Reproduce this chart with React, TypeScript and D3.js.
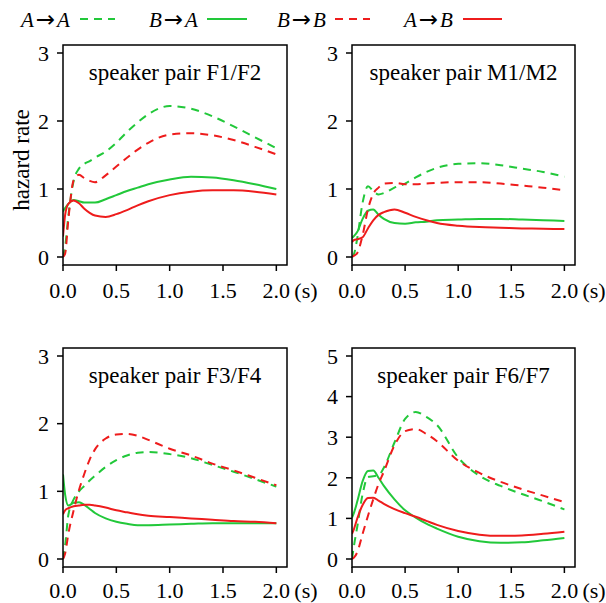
import React from 'react'
import * as d3 from 'd3'

// time grid (s) shared by every curve
const times = [0, 0.02, 0.05, 0.1, 0.15, 0.2, 0.25, 0.3, 0.4, 0.5, 0.6, 0.7, 0.8, 1.0, 1.2, 1.4, 1.6, 1.8, 2.0]

// speaker pair F1/F2
const f12AA = [0, 0.15, 0.6, 1.12, 1.3, 1.37, 1.41, 1.46, 1.55, 1.68, 1.84, 1.98, 2.1, 2.22, 2.18, 2.07, 1.92, 1.76, 1.6]
const f12BA = [0.67, 0.72, 0.78, 0.84, 0.82, 0.8, 0.8, 0.8, 0.85, 0.91, 0.97, 1.02, 1.07, 1.14, 1.18, 1.17, 1.13, 1.07, 1.0]
const f12BB = [0, 0.05, 0.55, 1.13, 1.21, 1.16, 1.12, 1.1, 1.2, 1.33, 1.46, 1.58, 1.68, 1.8, 1.82, 1.79, 1.72, 1.62, 1.51]
const f12AB = [0.3, 0.62, 0.78, 0.83, 0.79, 0.71, 0.65, 0.61, 0.59, 0.63, 0.69, 0.76, 0.82, 0.91, 0.96, 0.98, 0.98, 0.96, 0.92]

// speaker pair M1/M2
const m12AA = [0, 0.05, 0.28, 0.8, 1.04, 0.97, 0.92, 0.94, 1.02, 1.08, 1.17, 1.25, 1.31, 1.37, 1.38, 1.35, 1.3, 1.25, 1.18]
const m12BA = [0.28, 0.31, 0.37, 0.56, 0.68, 0.7, 0.62, 0.56, 0.5, 0.49, 0.51, 0.52, 0.54, 0.55, 0.56, 0.56, 0.55, 0.54, 0.53]
const m12BB = [0, 0.02, 0.06, 0.32, 0.7, 0.93, 1.02, 1.08, 1.09, 1.07, 1.07, 1.08, 1.09, 1.1, 1.1, 1.08, 1.05, 1.02, 0.98]
const m12AB = [0.22, 0.25, 0.26, 0.29, 0.42, 0.54, 0.62, 0.66, 0.7, 0.65, 0.59, 0.54, 0.5, 0.46, 0.44, 0.43, 0.42, 0.415, 0.41]

// speaker pair F3/F4
const f34AA = [0, 0.2, 0.65, 0.88, 1.0, 1.08, 1.16, 1.23, 1.36, 1.46, 1.53, 1.57, 1.58, 1.55, 1.49, 1.39, 1.29, 1.18, 1.07]
const f34BA = [1.25, 0.95, 0.79, 0.83, 0.84, 0.8, 0.74, 0.68, 0.6, 0.55, 0.52, 0.5, 0.5, 0.51, 0.52, 0.53, 0.53, 0.53, 0.53]
const f34BB = [0, 0.08, 0.37, 0.72, 1.02, 1.26, 1.47, 1.62, 1.78, 1.84, 1.85, 1.82, 1.76, 1.63, 1.53, 1.41, 1.31, 1.2, 1.09]
const f34AB = [0.66, 0.72, 0.75, 0.78, 0.79, 0.8, 0.8, 0.79, 0.76, 0.72, 0.69, 0.66, 0.64, 0.62, 0.6, 0.58, 0.56, 0.55, 0.53]

// speaker pair F6/F7
const f67AA = [0, 0.35, 0.8, 1.6, 2.02, 2.04, 2.06, 2.25, 2.87, 3.45, 3.62, 3.5, 3.3, 2.5, 2.05, 1.8, 1.6, 1.42, 1.22]
const f67BA = [1.02, 1.15, 1.42, 1.92, 2.17, 2.18, 2.0, 1.8, 1.47, 1.2, 1.02, 0.87, 0.75, 0.55, 0.44, 0.4, 0.41, 0.46, 0.52]
const f67BB = [0, 0.04, 0.17, 0.62, 1.06, 1.47, 1.85, 2.15, 2.8, 3.15, 3.2, 3.08, 2.9, 2.42, 2.12, 1.9, 1.72, 1.56, 1.4]
const f67AB = [0.62, 0.75, 1.0, 1.33, 1.5, 1.51, 1.44, 1.36, 1.23, 1.13, 1.04, 0.94, 0.84, 0.69, 0.6, 0.57, 0.58, 0.62, 0.67]

const panelTitles = ['speaker pair F1/F2', 'speaker pair M1/M2', 'speaker pair F3/F4', 'speaker pair F6/F7']
const yMaxes = [3, 3, 3, 5]
const xTicks = [0, 0.5, 1.0, 1.5, 2.0]
const legendFrom = ['A', 'B', 'B', 'A']
const legendTo = ['A', 'A', 'B', 'B']

const panelSeries = [
  [f12AA, f12BA, f12BB, f12AB],
  [m12AA, m12BA, m12BB, m12AB],
  [f34AA, f34BA, f34BB, f34AB],
  [f67AA, f67BA, f67BB, f67AB],
]

const GREEN = '#22c83a'
const RED = '#ee1c1c'
const styles = [
  { color: GREEN, dash: '8,6' },
  { color: GREEN, dash: null },
  { color: RED, dash: '8,6' },
  { color: RED, dash: null },
]

const W = 606, H = 603
const FONT = '"Liberation Serif", "Times New Roman", serif'
const cols = [[63, 287], [352, 575]]
const rows = [[45, 265], [348, 567]]
const PAD = 8

function Panel({ idx }: { idx: number }) {
  const [x0, x1] = cols[idx % 2]
  const [y0, y1] = rows[Math.floor(idx / 2)]
  const ymax = yMaxes[idx]
  const x = d3.scaleLinear().domain([0, 2.1]).range([x0, x1])
  const y = d3.scaleLinear().domain([0, ymax]).range([y1 - PAD, y0 + PAD])
  const line = d3.line<number>()
    .x((_, i) => x(times[i]))
    .y(d => y(d))
    .curve(d3.curveMonotoneX)
  const yTicks = d3.range(0, ymax + 1)
  const labelY = Math.min(y1 + 33, H - 5)
  return (
    <g>
      <defs>
        <clipPath id={`clip${idx}`}>
          <rect x={x0} y={y0} width={x1 - x0} height={y1 - y0} />
        </clipPath>
      </defs>
      <g clipPath={`url(#clip${idx})`}>
        {panelSeries[idx].map((s, k) => (
          <path key={k} d={line(s) || ''} fill='none' stroke={styles[k].color}
            strokeWidth={2} strokeDasharray={styles[k].dash || undefined} />
        ))}
      </g>
      <rect x={x0} y={y0} width={x1 - x0} height={y1 - y0} fill='none' stroke='black' strokeWidth={1.5} />
      {yTicks.map(t => (
        <g key={t}>
          <line x1={x0 - 6} x2={x0} y1={y(t)} y2={y(t)} stroke='black' strokeWidth={1.5} />
          <text x={x0 - 14} y={y(t)} dy='0.35em' textAnchor='end' fontSize={22} fontFamily={FONT}>{t}</text>
        </g>
      ))}
      {xTicks.map(t => (
        <g key={t}>
          <line x1={x(t)} x2={x(t)} y1={y1} y2={y1 + 6} stroke='black' strokeWidth={1.5} />
          <text x={x(t)} y={labelY} textAnchor='middle' fontSize={22} fontFamily={FONT}>{t.toFixed(1)}</text>
        </g>
      ))}
      <text x={x(2.0) + 18} y={labelY} textAnchor='start' fontSize={22} fontFamily={FONT}>(s)</text>
      <text x={(x0 + x1) / 2} y={y0 + 35} textAnchor='middle' fontSize={23} fontFamily={FONT}>{panelTitles[idx]}</text>
    </g>
  )
}

export default function App() {
  const textX = [21, 149, 277, 404]
  const lineX = [[80, 115], [207, 247], [335, 370], [463, 502]]
  return (
    <svg width={W} height={H} viewBox={`0 0 ${W} ${H}`} style={{ position: 'absolute', left: 0, top: 0, background: 'white' }}>
      {legendFrom.map((a, i) => (
        <g key={i}>
          <text x={textX[i]} y={27} fontSize={21} fontFamily={FONT}>
            <tspan fontStyle='italic'>{a}</tspan>
            <tspan dx={2} fontFamily='"DejaVu Sans"' fontSize={23}>→</tspan>
            <tspan dx={2} fontStyle='italic'>{legendTo[i]}</tspan>
          </text>
          <line x1={lineX[i][0]} x2={lineX[i][1]} y1={19} y2={19} stroke={styles[i].color}
            strokeWidth={2} strokeDasharray={styles[i].dash || undefined} />
        </g>
      ))}
      <text transform={`translate(29, 160) rotate(-90)`} textAnchor='middle' fontSize={23} fontFamily={FONT}>hazard rate</text>
      {[0, 1, 2, 3].map(i => <Panel key={i} idx={i} />)}
    </svg>
  )
}
